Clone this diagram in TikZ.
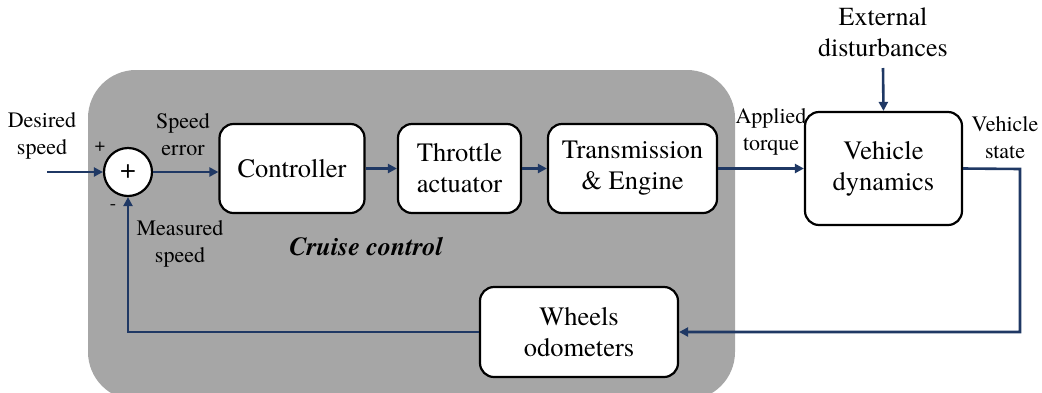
\documentclass[tikz,border=0pt]{standalone}
\usepackage{fontspec}
\setmainfont{texgyretermes}[Extension=.otf,UprightFont=*-regular,BoldFont=*-bold,ItalicFont=*-italic,BoldItalicFont=*-bolditalic]
\usetikzlibrary{arrows.meta}
\definecolor{wire}{RGB}{31,56,100}
\definecolor{panel}{RGB}{166,166,166}
\begin{document}
\begin{tikzpicture}[x=1pt,y=-1pt,
  blk/.style={draw=black,line width=2.2pt,fill=white,rounded corners=14pt,align=center,font=\fontsize{26.5}{31}\selectfont,inner sep=0pt},
  lbl/.style={align=center,font=\fontsize{22}{27}\selectfont,inner sep=0pt},
  wirestyle/.style={draw=wire,line width=2.6pt,-{Triangle[length=9pt,width=9pt]}},
  plain/.style={draw=wire,line width=2.6pt}]
\useasboundingbox (0,0) rectangle (1042,392);
\clip (0,0) rectangle (1042,392);
\fill[panel,rounded corners=48pt] (88,70) rectangle (735,400);
% blocks
\node[draw=black,line width=2.2pt,fill=white,circle,minimum size=48pt,inner sep=0pt,font=\fontsize{28}{28}\selectfont] (sum) at (128,172) {+};
\node[blk,minimum width=145pt,minimum height=89pt] (ctrl) at (292,168.5) {Controller};
\node[blk,minimum width=123pt,minimum height=89pt] (thr) at (459.5,168.5) {Throttle\\actuator};
\node[blk,minimum width=169pt,minimum height=89pt] (tra) at (632.5,168.5) {Transmission\\\& Engine};
\node[blk,minimum width=157pt,minimum height=113pt] (veh) at (883.5,168.5) {Vehicle\\dynamics};
\node[blk,minimum width=198pt,minimum height=90pt] (whl) at (579,332) {Wheels\\odometers};
% labels
\node[lbl] (des) at (42,136) {Desired\\speed};
\node[lbl] (err) at (183,135) {Speed\\error};
\node[lbl] (meas) at (180,244) {Measured\\speed};
\node[lbl] (torq) at (771,132) {Applied\\torque};
\node[lbl,font=\fontsize{26}{31}\selectfont] (ext) at (883,32) {External\\disturbances};
\node[lbl] (vst) at (1005,138) {Vehicle\\state};
\node[lbl,font=\fontsize{19}{19}\selectfont] (plus) at (100,147) {+};
\node[lbl,font=\fontsize{19}{19}\selectfont] (minus) at (113,207) {-};
\node[lbl,font=\fontsize{26}{26}\selectfont\bfseries\itshape] (cc) at (366,247) {Cruise control};
% connectors
\coordinate (in) at (47,172);
\coordinate (extin) at (883,68);
\coordinate (c1) at (1020,169);
\coordinate (c2) at (1020,332);
\coordinate (c3) at (128,332);
\draw[wirestyle] (in) -- (sum.west);
\draw[wirestyle] (sum.east) -- (sum.east -| ctrl.west);
\draw[wirestyle] (ctrl.east) -- (thr.west);
\draw[wirestyle] (thr.east) -- (tra.west);
\draw[wirestyle] (tra.east) -- (veh.west);
\draw[wirestyle] (extin) -- (veh.north);
\draw[wirestyle] (veh.east) -- (c1) -- (c2) -- (whl.east);
\draw[wirestyle] (whl.west) -- (c3) -- (sum.south);
\end{tikzpicture}
\end{document}
